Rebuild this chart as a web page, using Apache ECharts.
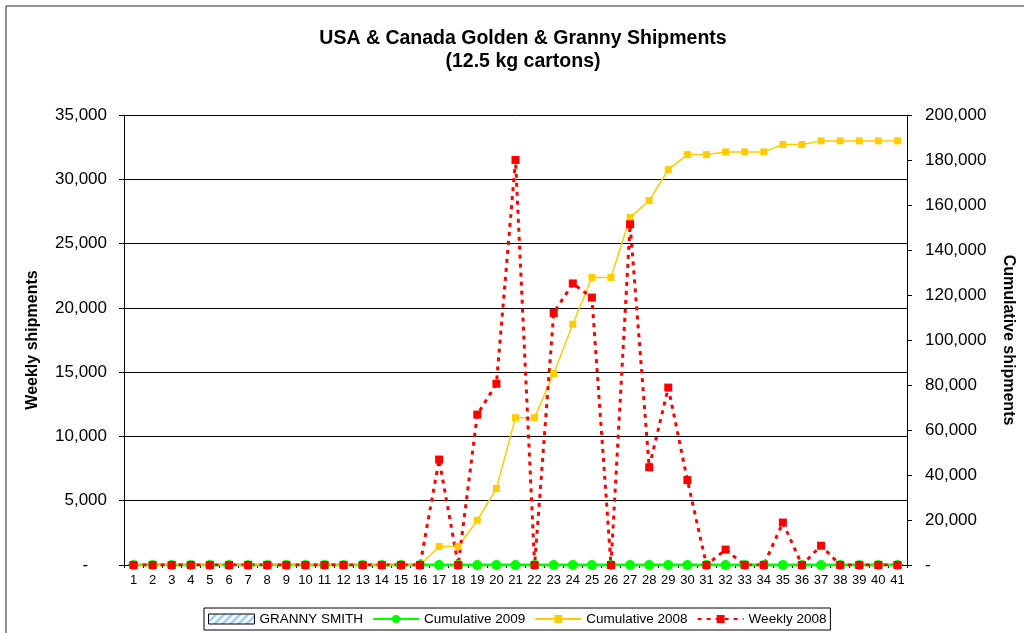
<!DOCTYPE html>
<html>
<head>
<meta charset="utf-8">
<title>USA & Canada Golden & Granny Shipments</title>
<script src="https://cdn.jsdelivr.net/npm/echarts@6/dist/echarts.min.js"></script>
<style>
  html, body { margin: 0; padding: 0; background: #fff; overflow: hidden; }
  #main { width: 1024px; height: 633px; }
</style>
</head>
<body>
<div id="main"></div>
<script>
// week numbers along the bottom
var weeks = ['1','2','3','4','5','6','7','8','9','10','11','12','13','14','15','16','17','18','19','20',
             '21','22','23','24','25','26','27','28','29','30','31','32','33','34','35','36','37','38','39','40','41'];

var grannySmith = [0,0,0,0,0,0,0,0,0,0,0,0,0,0,0,0,0,0,0,0,
                   0,0,0,0,0,0,0,0,0,0,0,0,0,0,0,0,0,0,0,0,0];

var cumulative2009 = [0,0,0,0,0,0,0,0,0,0,0,0,0,0,0,0,0,0,0,0,
                      0,0,0,0,0,0,0,0,0,0,0,0,0,0,0,0,0,0,0,0,0];

var cumulative2008 = [0,0,0,0,0,0,0,0,0,0,0,0,0,0,0,0,
                      8200,8200,19900,34000,65500,65500,85100,107000,127800,127800,
                      154500,162000,175700,182400,182400,183600,183600,183600,186900,186900,
                      188500,188500,188500,188500,188500];

var weekly2008 = [0,0,0,0,0,0,0,0,0,0,0,0,0,0,0,0,
                  8200,0,11700,14100,31500,0,19600,21900,20800,0,
                  26500,7600,13800,6600,0,1200,0,0,3300,0,
                  1500,0,0,0,0];

var FONT = "'Liberation Sans', Arial, sans-serif";

// light blue hatch for the Granny Smith bars / legend swatch
var hatch = document.createElement('canvas');
hatch.width = 8; hatch.height = 8;
var hc = hatch.getContext('2d');
hc.fillStyle = '#ffffff';
hc.fillRect(0, 0, 8, 8);
hc.strokeStyle = '#99ccff';
hc.lineWidth = 2.5;
hc.beginPath();
hc.moveTo(-2, 10); hc.lineTo(10, -2);
hc.moveTo(-6, 6); hc.lineTo(6, -6);
hc.moveTo(2, 14); hc.lineTo(14, 2);
hc.stroke();

function fmtLeft(v) {
    return v === 0 ? '-    ' : v.toLocaleString('en-US');
}
function fmtRight(v) {
    return v === 0 ? '-' : v.toLocaleString('en-US');
}

var chart = echarts.init(document.getElementById('main'), null, { renderer: 'canvas' });

var option = {
    animation: false,
    textStyle: { fontFamily: FONT },
    graphic: [
        {
            type: 'rect',
            shape: { x: 6, y: 6, width: 1200, height: 800 },
            style: { fill: 'none', stroke: '#222', lineWidth: 1 },
            silent: true
        },
        {
            type: 'text',
            x: 523,
            y: 27,
            style: {
                text: 'USA & Canada Golden & Granny Shipments\n(12.5 kg cartons)',
                align: 'center',
                font: 'bold 19.5px ' + FONT,
                lineHeight: 23,
                fill: '#000'
            }
        }
    ],
    legend: {
        left: 204,
        top: 608,
        padding: [4, 4, 4, 4],
        itemGap: 9,
        itemWidth: 46,
        itemHeight: 10,
        borderColor: '#000',
        borderWidth: 1,
        textStyle: { fontSize: 13.5, color: '#000', fontFamily: FONT },
        data: [
            { name: 'GRANNY SMITH', icon: 'rect', itemStyle: { borderColor: '#000', borderWidth: 1 } },
            { name: 'Cumulative 2009' },
            { name: 'Cumulative 2008' },
            { name: 'Weekly 2008' }
        ]
    },
    grid: {
        left: 124,
        right: 115,
        top: 115,
        bottom: 68
    },
    xAxis: {
        type: 'category',
        data: weeks,
        boundaryGap: true,
        axisLine: { lineStyle: { color: '#000', width: 1 } },
        axisTick: { show: true, length: 3, lineStyle: { color: '#000' } },
        axisLabel: { color: '#000', fontSize: 13, margin: 9, interval: 0, fontFamily: FONT }
    },
    yAxis: [
        {
            type: 'value',
            min: 0,
            max: 35000,
            interval: 5000,
            name: 'Weekly shipments',
            nameLocation: 'middle',
            nameGap: 83,
            nameRotate: 90,
            nameTextStyle: { fontSize: 16, fontWeight: 'bold', color: '#000', fontFamily: FONT },
            axisLine: { show: true, lineStyle: { color: '#000' } },
            axisTick: { show: true, length: 5, lineStyle: { color: '#000' } },
            axisLabel: { color: '#000', fontSize: 17, margin: 17, formatter: fmtLeft, fontFamily: FONT },
            splitLine: { show: true, lineStyle: { color: '#000', width: 1 } }
        },
        {
            type: 'value',
            position: 'right',
            min: 0,
            max: 200000,
            interval: 20000,
            name: 'Cumulative shipments',
            nameLocation: 'middle',
            nameGap: 93,
            nameRotate: -90,
            nameTextStyle: { fontSize: 16, fontWeight: 'bold', color: '#000', fontFamily: FONT },
            axisLine: { show: true, lineStyle: { color: '#000' } },
            axisTick: { show: true, length: 5, lineStyle: { color: '#000' } },
            axisLabel: { color: '#000', fontSize: 17, margin: 18, formatter: fmtRight, fontFamily: FONT },
            splitLine: { show: false }
        }
    ],
    series: [
        {
            name: 'GRANNY SMITH',
            type: 'bar',
            yAxisIndex: 0,
            data: grannySmith,
            barWidth: '60%',
            itemStyle: { color: { image: hatch, repeat: 'repeat' }, borderColor: '#000', borderWidth: 1 }
        },
        {
            name: 'Cumulative 2009',
            type: 'line',
            yAxisIndex: 1,
            data: cumulative2009,
            symbol: 'circle',
            symbolSize: 10,
            itemStyle: { color: '#00ff00' },
            lineStyle: { color: '#00ff00', width: 3 }
        },
        {
            name: 'Cumulative 2008',
            type: 'line',
            yAxisIndex: 1,
            data: cumulative2008,
            symbol: 'rect',
            symbolSize: 7,
            itemStyle: { color: '#ffcc00' },
            lineStyle: { color: '#ffcc00', width: 1.5 }
        },
        {
            name: 'Weekly 2008',
            type: 'line',
            yAxisIndex: 0,
            data: weekly2008,
            symbol: 'rect',
            symbolSize: 8,
            itemStyle: { color: '#ff0000' },
            lineStyle: { color: '#ff0000', width: 3, type: [4, 5] }
        }
    ]
};

chart.setOption(option);
</script>
</body>
</html>
